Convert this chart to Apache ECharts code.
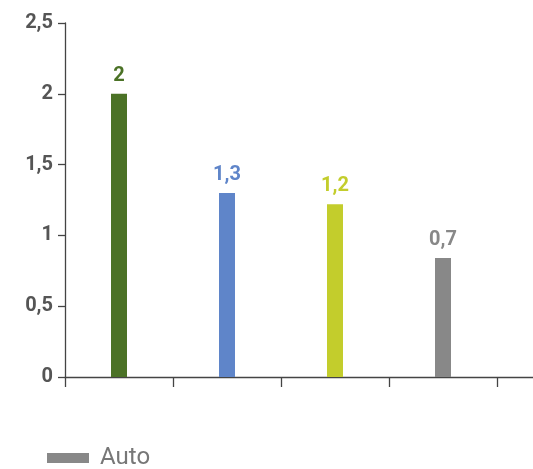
<!DOCTYPE html>
<html>
<head>
<meta charset="utf-8">
<script src="https://cdn.jsdelivr.net/npm/echarts@6/dist/echarts.min.js"></script>
<style>
html,body{margin:0;padding:0;background:#fff;}
#chart{width:533px;height:469px;}
</style>
</head>
<body>
<div id="chart"></div>
<script>
const categories = ['c1', 'c2', 'c3', 'c4', 'c5'];
const values = [2, 1.3, 1.22, 0.84];
const valueLabels = ['2', '1,3', '1,2', '0,7'];
const barColors = ['#4b7226', '#5f85c9', '#c3cd2c', '#888888'];
const seriesName = 'Auto';
const yMin = 0, yMax = 2.5, yStep = 0.5;

const chart = echarts.init(document.getElementById('chart'), null, {renderer: 'canvas'});
const font = 'Roboto, "Noto Sans", sans-serif';
chart.setOption({
  animation: false,
  backgroundColor: '#ffffff',
  grid: {left: 65, top: 23, height: 354, width: 540, containLabel: false, outerBoundsMode: 'none'},
  legend: {
    data: [seriesName],
    left: 42, top: 441,
    itemWidth: 42, itemHeight: 10,
    icon: 'rect',
    textStyle: {fontSize: 24, color: '#777777', fontFamily: font, padding: [0, 0, 0, 6]}
  },
  xAxis: {
    type: 'category',
    data: categories,
    boundaryGap: true,
    axisLine: {show: true, lineStyle: {color: '#444444', width: 1.3}},
    axisTick: {show: true, length: 10, alignWithLabel: false, lineStyle: {color: '#444444', width: 1.3}},
    axisLabel: {show: false},
    splitLine: {show: false}
  },
  yAxis: {
    type: 'value',
    min: yMin, max: yMax, interval: yStep,
    axisLine: {show: true, lineStyle: {color: '#444444', width: 1.3}},
    axisTick: {show: true, length: 7, lineStyle: {color: '#444444', width: 1.3}},
    splitLine: {show: false},
    axisLabel: {
      margin: 12,
      fontSize: 20, fontWeight: 'bold', color: '#555555', fontFamily: font,
      formatter: v => String(v).replace('.', ',')
    }
  },
  series: [{
    name: seriesName,
    type: 'bar',
    barWidth: 16,
    color: '#888888',
    data: values.map((v, i) => ({
      value: v,
      itemStyle: {color: barColors[i]},
      label: {color: barColors[i]}
    })),
    label: {
      show: true,
      position: 'top',
      distance: 8,
      fontSize: 20, fontWeight: 'bold', fontFamily: font,
      formatter: p => valueLabels[p.dataIndex]
    }
  }]
});
</script>
</body>
</html>
